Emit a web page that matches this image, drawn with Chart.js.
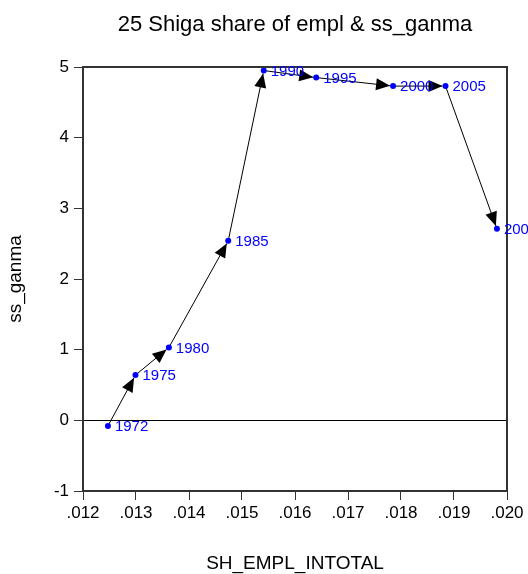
<!DOCTYPE html>
<html>
<head>
<meta charset="utf-8">
<script src="https://cdn.jsdelivr.net/npm/chart.js@4"></script>
<style>
html,body{margin:0;padding:0;background:#fff;}
canvas{display:block;}
</style>
</head>
<body>
<canvas id="c" width="528" height="574"></canvas>
<script>
const years = ['1972','1975','1980','1985','1990','1995','2000','2005','2008'];
const shEmplIntotal = [0.01247, 0.01299, 0.01362, 0.01474, 0.01541, 0.01640, 0.01785, 0.01884, 0.01981];
const ssGanma = [-0.08, 0.64, 1.03, 2.54, 4.95, 4.85, 4.73, 4.73, 2.71];
const xTickValues = [0.012, 0.013, 0.014, 0.015, 0.016, 0.017, 0.018, 0.019, 0.020];
const xTickLabels = ['.012', '.013', '.014', '.015', '.016', '.017', '.018', '.019', '.020'];
const yTickValues = [-1, 0, 1, 2, 3, 4, 5];
const yTickLabels = ['-1', '0', '1', '2', '3', '4', '5'];
const titleText = '25 Shiga share of empl & ss_ganma';
const xTitle = 'SH_EMPL_INTOTAL';
const yTitle = 'ss_ganma';

const FONT = '"Liberation Sans", Arial, sans-serif';

const points = years.map((y, i) => ({x: shEmplIntotal[i], y: ssGanma[i]}));

const arrowPlugin = {
  id: 'arrows',
  beforeDatasetsDraw(chart) {
    const ctx = chart.ctx;
    const xs = chart.scales.x, ys = chart.scales.y;
    const a = chart.chartArea;
    ctx.save();
    ctx.strokeStyle = '#000';
    ctx.lineWidth = 1;
    const y0 = Math.round(ys.getPixelForValue(0)) + 0.5;
    ctx.beginPath();
    ctx.moveTo(a.left, y0);
    ctx.lineTo(a.right, y0);
    ctx.stroke();
    for (let i = 0; i < points.length - 1; i++) {
      const x1 = xs.getPixelForValue(points[i].x), y1 = ys.getPixelForValue(points[i].y);
      const x2 = xs.getPixelForValue(points[i+1].x), y2 = ys.getPixelForValue(points[i+1].y);
      const ang = Math.atan2(y2 - y1, x2 - x1);
      const tx = x2 - 3 * Math.cos(ang), ty = y2 - 3 * Math.sin(ang);
      ctx.strokeStyle = '#000';
      ctx.lineWidth = 1;
      ctx.beginPath();
      ctx.moveTo(x1, y1);
      ctx.lineTo(tx, ty);
      ctx.stroke();
      const L = 14, W = 6;
      const bx = tx - L * Math.cos(ang), by = ty - L * Math.sin(ang);
      ctx.fillStyle = '#000';
      ctx.beginPath();
      ctx.moveTo(tx, ty);
      ctx.lineTo(bx + W * Math.sin(ang), by - W * Math.cos(ang));
      ctx.lineTo(bx - W * Math.sin(ang), by + W * Math.cos(ang));
      ctx.closePath();
      ctx.fill();
    }
    ctx.restore();
  },
  afterDraw(chart) {
    const ctx = chart.ctx;
    const xs = chart.scales.x, ys = chart.scales.y;
    const a = chart.chartArea;
    ctx.save();
    ctx.strokeStyle = '#333';
    ctx.lineWidth = 2;
    ctx.strokeRect(a.left, a.top, a.right - a.left, a.bottom - a.top);
    ctx.fillStyle = '#0000ff';
    ctx.font = '15px ' + FONT;
    ctx.textAlign = 'left';
    ctx.textBaseline = 'middle';
    points.forEach((p, i) => {
      ctx.fillText(years[i], xs.getPixelForValue(p.x) + 7, ys.getPixelForValue(p.y) + 1);
    });
    ctx.fillStyle = '#000';
    ctx.textAlign = 'center';
    ctx.textBaseline = 'middle';
    ctx.font = '22px ' + FONT;
    const cx = (a.left + a.right) / 2;
    ctx.fillText(titleText, cx, 25);
    ctx.font = '19px ' + FONT;
    ctx.fillText(xTitle, cx, 564);
    ctx.translate(16, (a.top + a.bottom) / 2);
    ctx.rotate(-Math.PI / 2);
    ctx.fillText(yTitle, 0, 0);
    ctx.restore();
  }
};

new Chart(document.getElementById('c'), {
  type: 'scatter',
  data: {
    datasets: [{
      data: points,
      showLine: false,
      pointRadius: 3,
      pointHoverRadius: 3,
      pointBackgroundColor: '#0000ff',
      pointBorderColor: '#0000ff',
      pointBorderWidth: 0
    }]
  },
  options: {
    responsive: false,
    animation: false,
    devicePixelRatio: 1,
    layout: {padding: {top: 67, right: 21, left: 0, bottom: 0}},
    plugins: {legend: {display: false}, tooltip: {enabled: false}, title: {display: false}},
    scales: {
      x: {
        type: 'linear',
        min: 0.012, max: 0.020,
        afterBuildTicks: s => { s.ticks = xTickValues.map(v => ({value: v})); },
        afterFit: s => { s.height = 83; },
        ticks: {
          callback: (v, i) => xTickLabels[i],
          font: {size: 17, family: FONT},
          color: '#000',
          padding: 3,
          maxRotation: 0,
          autoSkip: false
        },
        grid: {drawOnChartArea: false, drawTicks: true, tickLength: 9, color: '#333', lineWidth: 1},
        border: {display: false}
      },
      y: {
        type: 'linear',
        min: -1, max: 5,
        afterBuildTicks: s => { s.ticks = yTickValues.map(v => ({value: v})); },
        afterFit: s => { s.width = 83; },
        ticks: {
          callback: (v, i) => yTickLabels[i],
          font: {size: 17, family: FONT},
          color: '#000',
          padding: 5,
          autoSkip: false
        },
        grid: {drawOnChartArea: false, drawTicks: true, tickLength: 9, color: '#333', lineWidth: 1},
        border: {display: false}
      }
    }
  },
  plugins: [arrowPlugin]
});
</script>
</body>
</html>
